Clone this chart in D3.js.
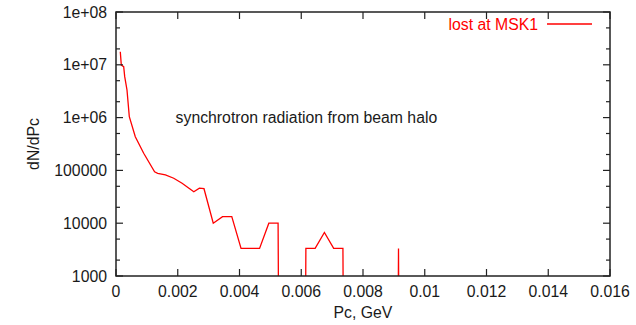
<!DOCTYPE html>
<html>
<head>
<meta charset="utf-8">
<script src="https://cdn.jsdelivr.net/npm/d3@7"></script>
<style>
  html, body { margin: 0; padding: 0; background: #fff; }
  svg { display: block; }
  text { font-family: "Liberation Sans", Arial, Helvetica, sans-serif; }
</style>
</head>
<body>
<svg id="chart" width="636" height="325"></svg>
<script>
// Momentum spectrum of photons lost at MSK1 (bin centres in GeV, dN/dPc)
const pc = [
  0.000139, 0.000172, 0.000249, 0.000282, 0.000356, 0.000431, 0.000625, 0.000897,
  0.00125, 0.00135, 0.00160, 0.00187, 0.00214, 0.00252, 0.00270, 0.00285,
  0.00315, 0.00345, 0.00375, 0.00405, 0.00435, 0.00465, 0.00495, 0.00525,
  0.00555, 0.00585, 0.00615, 0.00645, 0.00675, 0.00705, 0.00735,
  0.00765, 0.00795, 0.00825, 0.00855, 0.00885, 0.00915, 0.00945
];
const dNdPc = [
  1.77e7, 9.9e6, 9.2e6, 5.96e6, 3.33e6, 1.04e6, 4.35e5, 2.11e5,
  9.4e4, 8.8e4, 8.2e4, 7.1e4, 5.7e4, 3.95e4, 4.6e4, 4.5e4,
  10000, 13333, 13333, 3333, 3333, 3333, 10000, 10000,
  0, 0, 3333, 3333, 6667, 3333, 3333,
  0, 0, 0, 0, 0, 3333, 0
];

const xTicks = [0, 0.002, 0.004, 0.006, 0.008, 0.01, 0.012, 0.014, 0.016];
const xTickLabels = ["0", "0.002", "0.004", "0.006", "0.008", "0.01", "0.012", "0.014", "0.016"];
const yTicks = [1e3, 1e4, 1e5, 1e6, 1e7, 1e8];
const yTickLabels = ["1000", "10000", "100000", "1e+06", "1e+07", "1e+08"];
const yMinorTicks = [];
yTicks.slice(0, -1).forEach(d => { yMinorTicks.push(d * 2, d * 5); });

const seriesLabel = "lost at MSK1";
const note = "synchrotron radiation from beam halo";
const xTitle = "Pc, GeV";
const yTitle = "dN/dPc";

// empty bins sit far below the visible range on the log axis
const emptyLevel = 1e-30;

const margin = { left: 116, right: 26, top: 12, bottom: 49 };
const W = 636, H = 325;
const x0 = margin.left, x1 = W - margin.right;
const y0 = H - margin.bottom, y1 = margin.top;

const svg = d3.select("#chart");
const x = d3.scaleLinear().domain([0, 0.016]).range([x0, x1]);
const y = d3.scaleLog().domain([1e3, 1e8]).range([y0, y1]);

const fs = 15.8;
const axisColor = "#222";
const textColor = "#1a1a1a";
const red = "#ff0000";

svg.append("clipPath").attr("id", "plotClip")
  .append("rect").attr("x", x0).attr("y", y1).attr("width", x1 - x0).attr("height", y0 - y1);

// data line
const pts = pc.map((v, i) => [v, dNdPc[i] > 0 ? dNdPc[i] : emptyLevel]);
const line = d3.line().x(d => x(d[0])).y(d => y(d[1]));
svg.append("path")
  .attr("clip-path", "url(#plotClip)")
  .attr("d", line(pts))
  .attr("fill", "none")
  .attr("stroke", red)
  .attr("stroke-width", 1.3)
  .attr("stroke-linejoin", "miter");

// ticks (inward, mirrored on opposite sides)
const majorLen = 7, minorLen = 4;
const tickG = svg.append("g").attr("stroke", axisColor).attr("stroke-width", 1.2);
xTicks.forEach(t => {
  tickG.append("line").attr("x1", x(t)).attr("x2", x(t)).attr("y1", y0).attr("y2", y0 - majorLen);
  tickG.append("line").attr("x1", x(t)).attr("x2", x(t)).attr("y1", y1).attr("y2", y1 + majorLen);
});
yTicks.forEach(t => {
  tickG.append("line").attr("x1", x0).attr("x2", x0 + majorLen).attr("y1", y(t)).attr("y2", y(t));
  tickG.append("line").attr("x1", x1).attr("x2", x1 - majorLen).attr("y1", y(t)).attr("y2", y(t));
});
yMinorTicks.forEach(t => {
  tickG.append("line").attr("x1", x0).attr("x2", x0 + minorLen).attr("y1", y(t)).attr("y2", y(t));
  tickG.append("line").attr("x1", x1).attr("x2", x1 - minorLen).attr("y1", y(t)).attr("y2", y(t));
});

// frame
svg.append("rect")
  .attr("x", x0).attr("y", y1).attr("width", x1 - x0).attr("height", y0 - y1)
  .attr("fill", "none").attr("stroke", axisColor).attr("stroke-width", 1.5);

// tick labels
svg.append("g").selectAll("text").data(xTicks).join("text")
  .attr("x", d => x(d)).attr("y", y0 + 21)
  .attr("text-anchor", "middle").attr("font-size", fs).attr("fill", textColor)
  .text((d, i) => xTickLabels[i]);
svg.append("g").selectAll("text").data(yTicks).join("text")
  .attr("x", x0 - 9).attr("y", d => y(d) + 5.5)
  .attr("text-anchor", "end").attr("font-size", fs).attr("fill", textColor)
  .text((d, i) => yTickLabels[i]);

// axis titles
svg.append("text")
  .attr("x", (x0 + x1) / 2).attr("y", H - 7)
  .attr("text-anchor", "middle").attr("font-size", fs).attr("fill", textColor)
  .text(xTitle);
svg.append("text")
  .attr("transform", `translate(39, ${(y0 + y1) / 2}) rotate(-90)`)
  .attr("text-anchor", "middle").attr("font-size", fs).attr("fill", textColor)
  .text(yTitle);

// annotation, level with the 1e+06 tick
svg.append("text")
  .attr("x", x(0.00193)).attr("y", y(1e6) + 5.5)
  .attr("font-size", fs).attr("fill", textColor)
  .text(note);

// legend
const legY = 24;
svg.append("text")
  .attr("x", 538).attr("y", legY + 5.5)
  .attr("text-anchor", "end").attr("font-size", fs).attr("fill", red)
  .text(seriesLabel);
svg.append("line")
  .attr("x1", 547).attr("x2", 592).attr("y1", legY).attr("y2", legY)
  .attr("stroke", red).attr("stroke-width", 1.3);
</script>
</body>
</html>
